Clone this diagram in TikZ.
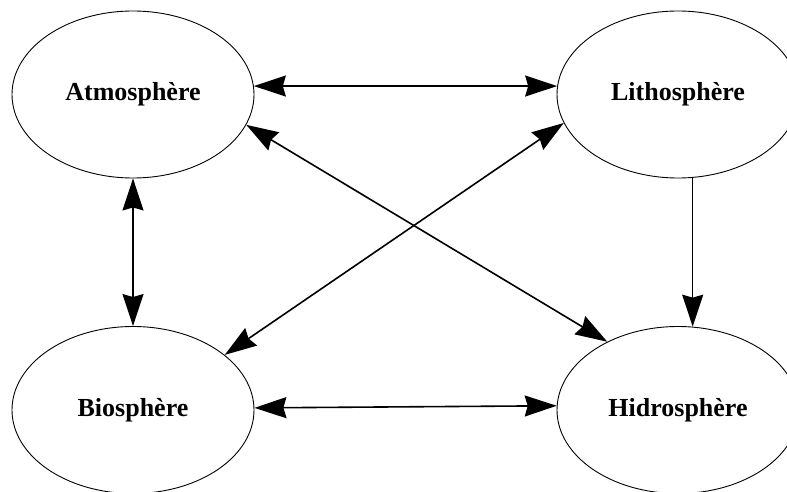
\documentclass[tikz,border=0pt]{standalone}
\usepackage{fontspec}
\setmainfont{Liberation Serif}
\usetikzlibrary{shapes.geometric,arrows.meta}
\begin{document}
\begin{tikzpicture}[x=1pt,y=1pt,
  sphere/.style={ellipse,draw,line width=0.9pt,minimum width=242pt,minimum height=167pt,inner sep=0pt,
    font=\fontsize{26}{30}\selectfont\bfseries},
  link/.style={line width=1.6pt,{Stealth[length=32pt,width=21pt,inset=3pt]}-{Stealth[length=32pt,width=21pt,inset=3pt]}},
  onelink/.style={line width=1.6pt,-{Stealth[length=32pt,width=21pt,inset=3pt]}}]
\useasboundingbox (0,0) rectangle (787,491);
\node[sphere] (atmo) at (133,396.5) {Atmosphère};
\node[sphere] (litho) at (678,396.5) {Lithosphère};
\node[sphere] (bio) at (133,81) {Biosphère};
\node[sphere] (hidro) at (678,81) {Hidrosphère};
\draw[link] (atmo.4) -- (litho.176);
\draw[link] (bio.1.4) -- (hidro.178.6);
\draw[link] (atmo.south) -- (bio.north);
\draw[onelink] (litho.-80.4) -- (hidro.80.4);
\draw[link] (atmo.-15.4) -- (hidro.136.9);
\draw[link] (litho.-166.3) -- (bio.31.4);
\end{tikzpicture}
\end{document}
